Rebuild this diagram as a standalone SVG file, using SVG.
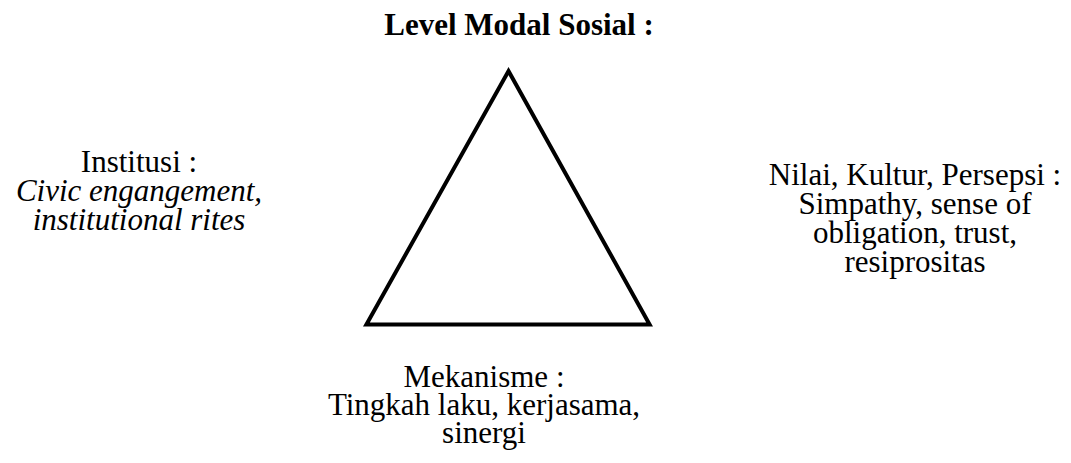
<svg xmlns="http://www.w3.org/2000/svg" width="1071" height="463" viewBox="0 0 1071 463">
<style>
  text { font-family: "Liberation Serif", "Times New Roman", serif; font-size: 31px; fill: #000; text-anchor: middle; }
  .title { font-weight: bold; }
  .it { font-style: italic; }
  .tri { fill: none; stroke: #000; stroke-width: 4; stroke-linejoin: miter; stroke-miterlimit: 10; }
</style>
<rect width="1071" height="463" fill="#fff"/>
<g id="title">
  <text class="title" x="519" y="35">Level Modal Sosial :</text>
</g>
<g id="connectors">
  <polygon class="tri" points="508.5,71 649.6,324.5 366.4,324.5"/>
</g>
<g id="node-institusi">
  <text x="139" y="172">Institusi :</text>
  <text class="it" x="139" y="201">Civic engangement,</text>
  <text class="it" x="139" y="230">institutional rites</text>
</g>
<g id="node-nilai">
  <text x="915" y="185">Nilai, Kultur, Persepsi :</text>
  <text x="915" y="214">Simpathy, sense of</text>
  <text x="915" y="243">obligation, trust,</text>
  <text x="915" y="272">resiprositas</text>
</g>
<g id="node-mekanisme">
  <text x="484" y="387">Mekanisme :</text>
  <text x="484" y="415">Tingkah laku, kerjasama,</text>
  <text x="484" y="443">sinergi</text>
</g>
</svg>
